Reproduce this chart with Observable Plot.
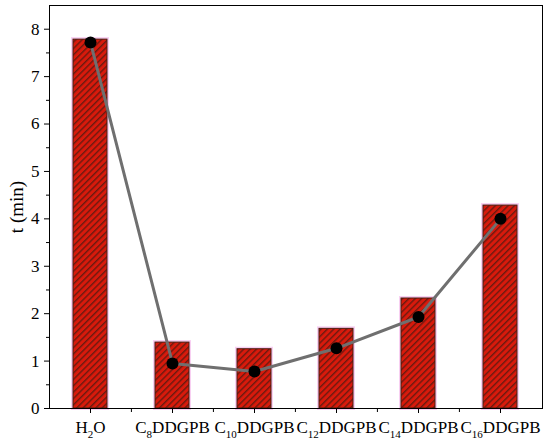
<!DOCTYPE html>
<html><head><meta charset="utf-8">
<script src="https://cdn.jsdelivr.net/npm/d3@7"></script>
<script src="https://cdn.jsdelivr.net/npm/@observablehq/plot@0.6"></script>
<style>body{margin:0;background:#fff} svg text{font-family:'Liberation Serif','Times New Roman',serif !important;}</style>
</head><body><div id="chart"></div>
<script>
const categories = ["H2O","C8DDGPB","C10DDGPB","C12DDGPB","C14DDGPB","C16DDGPB"];
const barValues = [7.78,1.39,1.25,1.68,2.32,4.28];
const pointValues = [7.72,0.95,0.78,1.27,1.93,4.00];
const yTicks = [0,1,2,3,4,5,6,7,8];
const yMinorTicks = [0.5,1.5,2.5,3.5,4.5,5.5,6.5,7.5];
const yLabel = "t (min)";

const data = categories.map((c,i)=>({cat:c, bar:barValues[i], pt:pointValues[i]}));

const W = 550, H = 445, mL = 49, mR = 8, mT = 5, mB = 37;
const step = (W - mL - mR) / categories.length;

const chart = Plot.plot({
  width: W, height: H,
  marginLeft: mL, marginRight: mR, marginTop: mT, marginBottom: mB,
  style: {fontFamily: "'Liberation Serif', 'Times New Roman', serif", fontSize: "17px", background: "#fff", color: "#000"},
  x: {domain: categories, paddingInner: 0.585, paddingOuter: 0.2925, axis: null},
  y: {domain: [0, 8.5], axis: null},
  marks: [
    Plot.barY(data, {x: "cat", y: "bar", fill: "none", stroke: "#f8d0f2", strokeWidth: 4}),
    Plot.barY(data, {x: "cat", y: "bar", fill: "url(#hatch)", stroke: "#4a1c10", strokeWidth: 1}),
    Plot.lineY(data, {x: "cat", y: "pt", stroke: "#6f6f6f", strokeWidth: 3}),
    Plot.dot(data, {x: "cat", y: "pt", r: 6, fill: "#000"}),
    Plot.axisY(yTicks, {tickSize: 5, tickPadding: 5, fontSize: 17, label: yLabel, labelAnchor: "center", labelArrow: "none", labelOffset: 40}),
    Plot.axisY(yMinorTicks, {tickSize: 3, tickFormat: () => "", label: null}),
    Plot.axisX(categories, {tickSize: 5, tickPadding: 7, fontSize: 17, label: null}),
    Plot.axisX(categories.slice(1), {tickSize: 4, dx: -step/2, tickFormat: () => "", label: null}),
    Plot.frame({stroke: "#000", strokeWidth: 1})
  ]
});

const svgNS = "http://www.w3.org/2000/svg";
const defs = document.createElementNS(svgNS, "defs");
defs.innerHTML = `<pattern id="hatch" patternUnits="userSpaceOnUse" width="4.5" height="4.5" patternTransform="rotate(45)">
<rect width="4.5" height="4.5" fill="#d81a0c"/>
<line x1="0.7" y1="0" x2="0.7" y2="4.5" stroke="#6a1a10" stroke-width="1.4"/>
</pattern>`;
chart.insertBefore(defs, chart.firstChild);

const xLabels = chart.querySelectorAll('g[aria-label="x-axis tick label"] text');
xLabels.forEach(t => {
  const s = t.textContent;
  const parts = s.split(/(\d+)/).filter(p => p.length);
  while (t.firstChild) t.removeChild(t.firstChild);
  let sub = false;
  parts.forEach(p => {
    const ts = document.createElementNS(svgNS, "tspan");
    ts.textContent = p;
    if (/^\d+$/.test(p)) {
      ts.setAttribute("font-size", "11");
      ts.setAttribute("dy", "5");
      sub = true;
    } else if (sub) {
      ts.setAttribute("dy", "-5");
      sub = false;
    }
    t.appendChild(ts);
  });
});
const yl = chart.querySelector('g[aria-label="y-axis label"] text');
if (yl) yl.setAttribute("font-size", "19");

document.getElementById("chart").appendChild(chart);
</script>
</body></html>
